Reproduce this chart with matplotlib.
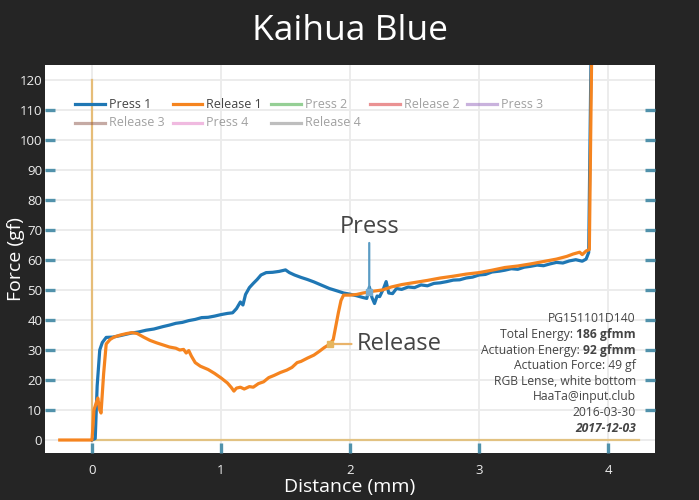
import matplotlib
matplotlib.use("Agg")
import matplotlib.pyplot as plt
from matplotlib.ticker import FixedLocator
from matplotlib.lines import Line2D

plt.rcParams['font.family'] = ['Open Sans', 'DejaVu Sans']

title = "Kaihua Blue"
x_label = "Distance (mm)"
y_label = "Force (gf)"

press1_x = [0.0, 0.025, 0.04, 0.06, 0.08, 0.11, 0.16, 0.22, 0.26, 0.30, 0.36, 0.42, 0.48, 0.55,
            0.60, 0.65, 0.70, 0.75, 0.80, 0.85, 0.90, 0.95, 1.00, 1.05, 1.09, 1.12, 1.15, 1.17,
            1.19, 1.22, 1.25, 1.28, 1.31, 1.35, 1.40, 1.45, 1.50, 1.53, 1.57, 1.62, 1.67, 1.72,
            1.78, 1.84, 1.90, 1.95, 2.00, 2.05, 2.10, 2.13, 2.15, 2.17, 2.19, 2.21, 2.23, 2.26,
            2.28, 2.30, 2.33, 2.36, 2.40, 2.45, 2.50, 2.55, 2.60, 2.65, 2.70, 2.75, 2.80, 2.85,
            2.90, 2.95, 3.00, 3.05, 3.10, 3.16, 3.20, 3.25, 3.30, 3.35, 3.40, 3.45, 3.50, 3.55,
            3.60, 3.65, 3.70, 3.75, 3.80, 3.83, 3.85, 3.87]
press1_y = [0.0, 0.5, 18.0, 30.0, 32.5, 34.2, 34.3, 34.8, 35.2, 35.6, 36.0, 36.6, 37.0, 37.8,
            38.3, 38.9, 39.2, 39.8, 40.2, 40.8, 40.9, 41.3, 41.8, 42.2, 42.4, 43.8, 46.0, 45.0,
            48.5, 50.8, 52.2, 53.5, 55.0, 55.8, 55.9, 56.2, 56.7, 55.8, 55.0, 54.2, 53.5, 52.7,
            51.6, 50.5, 49.7, 49.0, 48.6, 48.1, 47.5, 47.2, 51.0, 47.5, 45.5, 48.0, 47.8, 50.5,
            52.8, 49.0, 48.8, 50.5, 50.2, 51.0, 50.8, 51.7, 51.4, 52.2, 52.4, 52.8, 53.3, 53.4,
            54.0, 54.3, 55.0, 55.2, 56.0, 56.3, 56.6, 57.1, 56.9, 57.6, 57.9, 58.3, 58.1, 58.7,
            59.2, 59.0, 59.7, 60.1, 59.6, 60.3, 62.5, 135.0]

release1_x = [-0.25, 0.0, 0.005, 0.015, 0.03, 0.045, 0.06, 0.07, 0.09, 0.11, 0.14, 0.17, 0.22,
              0.27, 0.31, 0.35, 0.40, 0.45, 0.50, 0.55, 0.60, 0.65, 0.68, 0.71, 0.73, 0.75, 0.77,
              0.80, 0.84, 0.90, 0.95, 1.00, 1.05, 1.08, 1.10, 1.12, 1.15, 1.18, 1.22, 1.25, 1.29,
              1.33, 1.37, 1.41, 1.46, 1.51, 1.55, 1.59, 1.62, 1.67, 1.72, 1.76, 1.80, 1.845, 1.87,
              1.89, 1.91, 1.93, 1.95, 2.00, 2.05, 2.10, 2.18, 2.25, 2.32, 2.40, 2.50, 2.60, 2.70,
              2.80, 2.90, 3.00, 3.10, 3.20, 3.30, 3.40, 3.50, 3.60, 3.68, 3.73, 3.78, 3.80, 3.83,
              3.855, 3.865, 3.875]
release1_y = [0.0, 0.0, 3.0, 10.0, 12.0, 14.0, 10.0, 9.0, 22.0, 32.0, 33.5, 34.3, 35.0,
              35.5, 35.8, 35.5, 34.3, 33.2, 32.4, 31.7, 31.0, 30.6, 30.0, 30.2, 29.0, 29.8, 28.0,
              25.8, 24.6, 23.5, 22.2, 20.7, 19.0, 17.5, 16.3, 17.3, 17.6, 17.0, 17.8, 17.6, 18.8,
              19.4, 20.8, 21.5, 22.5, 23.3, 24.2, 25.8, 26.2, 27.3, 28.3, 29.5, 30.8, 32.0, 33.5,
              38.0, 42.5, 46.5, 48.3, 48.3, 48.5, 49.0, 49.6, 50.0, 51.0, 51.8, 52.5, 53.2, 54.0,
              54.6, 55.3, 55.8, 56.6, 57.5, 58.0, 58.7, 59.5, 60.3, 61.2, 62.0, 62.6, 61.8, 63.0,
              63.5, 100.0, 135.0]

legend_names = ["Press 1", "Release 1", "Press 2", "Release 2", "Press 3",
                "Release 3", "Press 4", "Release 4"]
legend_colors = ["#1f77b4", "#f5841f", "#2ca02c", "#d62728", "#9467bd",
                 "#8c564b", "#e377c2", "#7f7f7f"]
legend_active = [True, True, False, False, False, False, False, False]

press_point = (2.149, 49.4)
release_point = (1.845, 32.0)

ref_vline_x = [0.0, 0.0]
ref_vline_y = [0.0, 120.0]
ref_hline_x = [0.0, 4.24]
ref_hline_y = [0.0, 0.0]

info_lines = [("PG151101D140", ""), ("Total Energy: ", "186 gfmm"),
              ("Actuation Energy: ", "92 gfmm"), ("Actuation Force: 49 gf", ""),
              ("RGB Lense, white bottom", ""), ("HaaTa@input.club", ""),
              ("2016-03-30", ""), ("", "2017-12-03")]
info_x = 4.215
info_y = [40.6, 35.3, 30.0, 24.8, 19.6, 14.4, 9.3, 4.0]

x_ticks = [0, 1, 2, 3, 4]
y_ticks = list(range(0, 121, 10))
y_tick_marks = list(range(10, 111, 10))

BG = "#252525"
TEAL = "#5192ab"
TXT = "#444444"

W, H = 699, 500
fig = plt.figure(figsize=(W / 100, H / 100), dpi=100, facecolor=BG)
ax = fig.add_axes([45 / W, 1 - 453 / H, 610 / W, 388 / H])
ax.set_facecolor("white")
for s in ax.spines.values():
    s.set_visible(False)

ax.set_xlim(-0.3643, 4.364)
ax.set_ylim(-4.33, 125)

ax.set_xticks(x_ticks)
ax.set_yticks(y_ticks)
ax.grid(True, color="#ebebeb", lw=1.3, zorder=0)
ax.set_axisbelow(True)
ax.tick_params(axis='both', which='major', length=0, labelcolor="#eeeeee", labelsize=9.5)
ax.tick_params(axis='y', which='major', pad=2)
ax.tick_params(axis='x', which='major', pad=8)
ax.xaxis.remove_overlapping_locs = False
ax.yaxis.remove_overlapping_locs = False
ax.xaxis.set_minor_locator(FixedLocator(x_ticks))
ax.yaxis.set_minor_locator(FixedLocator(y_tick_marks))
ax.tick_params(axis='x', which='minor', direction='in', length=7.5, width=2.4, color=TEAL,
               bottom=True, top=False)
ax.tick_params(axis='y', which='minor', direction='in', length=7.5, width=2.4, color=TEAL,
               left=True, right=True)

ax.plot(ref_vline_x, ref_vline_y, color="#e6bd78", lw=1.6, zorder=2)
ax.plot(ref_hline_x, ref_hline_y, color="#e2c282", lw=1.6, zorder=2)

ax.plot(press1_x, press1_y, color=legend_colors[0], lw=2.3, zorder=3, solid_joinstyle='round')
ax.plot(release1_x, release1_y, color=legend_colors[1], lw=2.3, zorder=4, solid_joinstyle='round')

# annotations
ax.annotate("Press", xy=press_point, xytext=(0, 53), textcoords='offset pixels',
            ha='center', va='bottom', fontsize=17, color=TXT,
            arrowprops=dict(arrowstyle='-', color="#5b9cc4", lw=1.6, shrinkA=1, shrinkB=0),
            zorder=6)
ax.plot([press_point[0]], [press_point[1]], marker='s', ms=5, color="#78acd0", zorder=6)
ax.annotate("Release", xy=release_point, xytext=(27, 0), textcoords='offset pixels',
            ha='left', va='center', fontsize=17, color=TXT,
            arrowprops=dict(arrowstyle='-', color="#e9b36a", lw=1.6, shrinkA=2, shrinkB=0),
            zorder=6)
ax.plot([release_point[0]], [release_point[1]], marker='s', ms=5, color="#e6b55e", zorder=6)

# info block
FS_INFO = 8.7
for (norm, bold), yv in zip(info_lines, info_y):
    if bold:
        style = 'italic' if not norm else 'normal'
        bt = ax.text(info_x, yv, bold, ha='right', va='center', fontsize=FS_INFO,
                     fontweight='bold', style=style, color=TXT, zorder=7)
        if norm:
            ax.annotate(norm, xy=(0, 0.5), xycoords=bt, ha='right', va='center',
                        fontsize=FS_INFO, color=TXT, zorder=7)
    else:
        ax.text(info_x, yv, norm, ha='right', va='center', fontsize=FS_INFO, color=TXT, zorder=7)

# legend (manual, plotly-like fixed columns)
col_px = [75, 172.5, 271, 369.5, 467]
row_py = [104, 123]
for i, (name, col, act) in enumerate(zip(legend_names, legend_colors, legend_active)):
    r, c = divmod(i, 5)
    x0 = col_px[c] / W
    yy = 1 - row_py[r] / H
    alpha = 1.0 if act else 0.5
    fig.add_artist(Line2D([x0, x0 + 30 / W], [yy, yy], color=col, lw=2.3, alpha=alpha,
                          transform=fig.transFigure, zorder=8))
    fig.text(x0 + 34 / W, yy, name, ha='left', va='center', fontsize=9,
             color=TXT, alpha=alpha, zorder=8)

fig.text(0.5, 1 - 39.5 / H, title, ha='center', va='baseline', fontsize=25.5, color="white")
fig.text(0.5, 1 - 487 / H, x_label, ha='center', va='center', fontsize=14, color="white")
fig.text(16 / W, 1 - 259 / H, y_label, ha='center', va='center', rotation=90, fontsize=14,
         color="white")

fig.savefig("out.png", dpi=100, facecolor=BG)
